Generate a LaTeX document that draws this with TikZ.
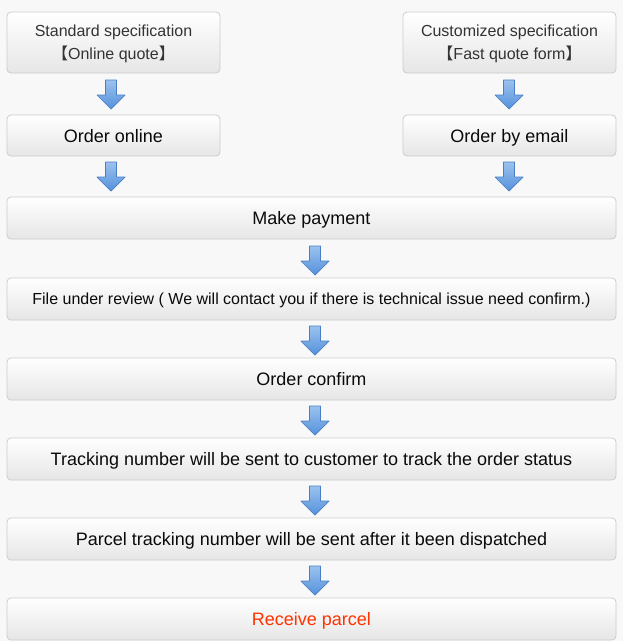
\documentclass[tikz,border=0pt]{standalone}
\usepackage{fontspec}
\setmainfont{Liberation Sans}
\newfontfamily\cjkf{Noto Sans CJK SC}
\usetikzlibrary{positioning}
\definecolor{bgc}{HTML}{F8F8F8}
\definecolor{boxline}{HTML}{CCCCCC}
\definecolor{boxtop}{HTML}{FFFFFF}
\definecolor{boxbot}{HTML}{E6E6E6}
\definecolor{arrtop}{HTML}{9CC2EE}
\definecolor{arrbot}{HTML}{5591DB}
\definecolor{arrline}{HTML}{4A7FC6}
\definecolor{redtxt}{HTML}{FF3300}
\definecolor{txt}{HTML}{0A0A0A}
\tikzset{
  stepbox/.style={draw=boxline, line width=0.8pt, rounded corners=4pt, top color=boxtop, bottom color=boxbot, text=txt, inner sep=0pt, align=center, text depth=0pt},
  downarrow/.pic={
    \draw[x=1pt, y=-1pt, arrline, line width=0.7pt, top color=arrtop, bottom color=arrbot, line join=round]
      (-5.5,0) -- (5.5,0) -- (5.5,15) -- (14,15) -- (0,29) -- (-14,15) -- (-5.5,15) -- cycle;
  }
}
\begin{document}
\begin{tikzpicture}[x=1pt,y=-1pt]
\fill[bgc] (0,0) rectangle (623,641);
\useasboundingbox (0,0) rectangle (623,641);
% top boxes
\node[stepbox, minimum width=213pt, minimum height=61pt, font=\fontsize{16}{23}\selectfont, text=black!80] (std) at (113.5,42.5) {Standard specification\\{\cjkf 【}Online quote{\cjkf 】}};
\node[stepbox, minimum width=213pt, minimum height=61pt, font=\fontsize{16}{23}\selectfont, text=black!80] (cus) at (509.5,42.5) {Customized specification\\{\cjkf 【}Fast quote form{\cjkf 】}};
\node[stepbox, minimum width=213pt, minimum height=41pt, font=\fontsize{18}{20}\selectfont] (oon) at (113.5,135.5) {Order online};
\node[stepbox, minimum width=213pt, minimum height=41pt, font=\fontsize{18}{20}\selectfont] (oem) at (509.5,135.5) {Order by email};
\node[stepbox, minimum width=609pt, minimum height=42pt, font=\fontsize{18}{20}\selectfont] (pay) at (311.5,218) {Make payment};
\node[stepbox, minimum width=609pt, minimum height=42pt, font=\fontsize{16}{20}\selectfont] (rev) at (311.5,299) {File under review ( We will contact you if there is technical issue need confirm.)};
\node[stepbox, minimum width=609pt, minimum height=42pt, font=\fontsize{18}{20}\selectfont] (conf) at (311.5,379) {Order confirm};
\node[stepbox, minimum width=609pt, minimum height=42pt, font=\fontsize{18}{20}\selectfont] (trk) at (311.5,459) {Tracking number will be sent to customer to track the order status};
\node[stepbox, minimum width=609pt, minimum height=42pt, font=\fontsize{18}{20}\selectfont] (par) at (311.5,539) {Parcel tracking number will be sent after it been dispatched};
\node[stepbox, minimum width=609pt, minimum height=42pt, font=\fontsize{18}{20}\selectfont, text=redtxt] (rcv) at (311.5,619) {Receive parcel};
% arrows
\pic at (111,80) {downarrow};
\pic at (111,162) {downarrow};
\pic at (509,80) {downarrow};
\pic at (509,162) {downarrow};
\pic at (315,246) {downarrow};
\pic at (315,326) {downarrow};
\pic at (315,406) {downarrow};
\pic at (315,486) {downarrow};
\pic at (315,566) {downarrow};
\end{tikzpicture}
\end{document}
